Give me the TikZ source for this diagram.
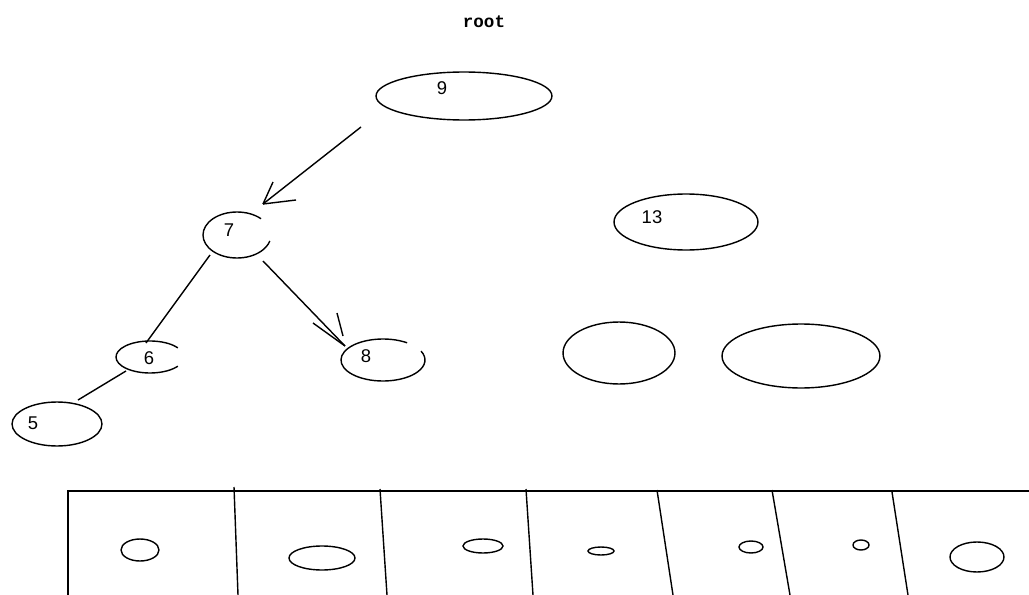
\documentclass[tikz,border=0pt]{standalone}
\usepackage{fontspec}
\setmainfont{Liberation Sans}
\newfontfamily\monofont{Liberation Mono}
\usetikzlibrary{shapes.geometric}
\begin{document}
\begin{tikzpicture}[x=0.02cm,y=0.02cm,line width=0.8pt,
  ovs/.style 2 args={ellipse,draw,inner sep=0pt,minimum width=#1*0.04cm,minimum height=#2*0.04cm},
  lbl/.style={font=\fontsize{10.5}{12}\selectfont,inner sep=0pt}]
\useasboundingbox (0,0) rectangle (1029,-595);

% title
\node[font=\monofont\bfseries\fontsize{10}{12}\selectfont,inner sep=0pt] (root) at (484,-22) {root};

% tree nodes
\node[ovs={88}{24}] (n9) at (464,-96) {};
\node[lbl] (l9) at (442,-88) {9};
\node[ovs={72}{28}] (n13) at (686,-222) {};
\node[lbl] (l13) at (652,-217) {13};
\node[ovs={45}{22}] (n5) at (57,-424) {};
\node[lbl] (l5) at (33,-423) {5};
\node[ovs={56}{31}] (na) at (619,-353) {};
\node[ovs={79}{32}] (nb) at (801,-356) {};

% open ellipses
\node[ovs={34}{23},draw=none] (n7) at (237,-235) {};
\draw (n7.center) ++(45:34 and 23) arc[start angle=45,end angle=345,x radius=34,y radius=23];
\node[lbl] (l7) at (229,-230) {7};
\node[ovs={34}{16},draw=none] (n6) at (150,-357) {};
\draw (n6.center) ++(35:34 and 16) arc[start angle=35,end angle=325,x radius=34,y radius=16];
\node[lbl] (l6) at (149,-358) {6};
\node[ovs={42}{21},draw=none] (n8) at (383,-360) {};
\draw (n8.center) ++(55:42 and 21) arc[start angle=55,end angle=385,x radius=42,y radius=21];
\node[lbl] (l8) at (366,-356) {8};

% connectors
\coordinate (s97) at (361,-127);
\coordinate (t97) at (263,-204);
\draw (s97) -- (t97);
\draw (t97) -- ++(10,22);
\draw (t97) -- ++(33,4);

\coordinate (s76) at (210,-255);
\coordinate (t76) at (146,-343);
\draw (s76) -- (t76);

\coordinate (s78) at (263,-261);
\coordinate (t78) at (345,-346);
\draw (s78) -- (t78);
\draw (t78) -- ++(-32,23);
\coordinate (b78a) at (337,-313);
\coordinate (b78b) at (343,-336);
\draw (b78a) -- (b78b);

\coordinate (s65) at (126,-371);
\coordinate (t65) at (78,-400);
\draw (s65) -- (t65);

% table
\draw (1029,-491) -- (68,-491) -- (68,-595);
\draw (234,-487) -- (238,-595);
\draw (380,-489) -- (387,-595);
\draw (526,-489) -- (533,-595);
\draw (657,-490) -- (673,-595);
\draw (772,-490) -- (790,-595);
\draw (892,-492) -- (908,-595);

\draw (140,-550) ellipse[x radius=19,y radius=11];
\draw (322,-558) ellipse[x radius=33,y radius=12];
\draw (483,-546) ellipse[x radius=20,y radius=7];
\draw (601,-551) ellipse[x radius=13,y radius=4];
\draw (751,-547) ellipse[x radius=12,y radius=6];
\draw (861,-545) ellipse[x radius=8,y radius=5];
\draw (977,-557) ellipse[x radius=27,y radius=15];
\end{tikzpicture}
\end{document}
